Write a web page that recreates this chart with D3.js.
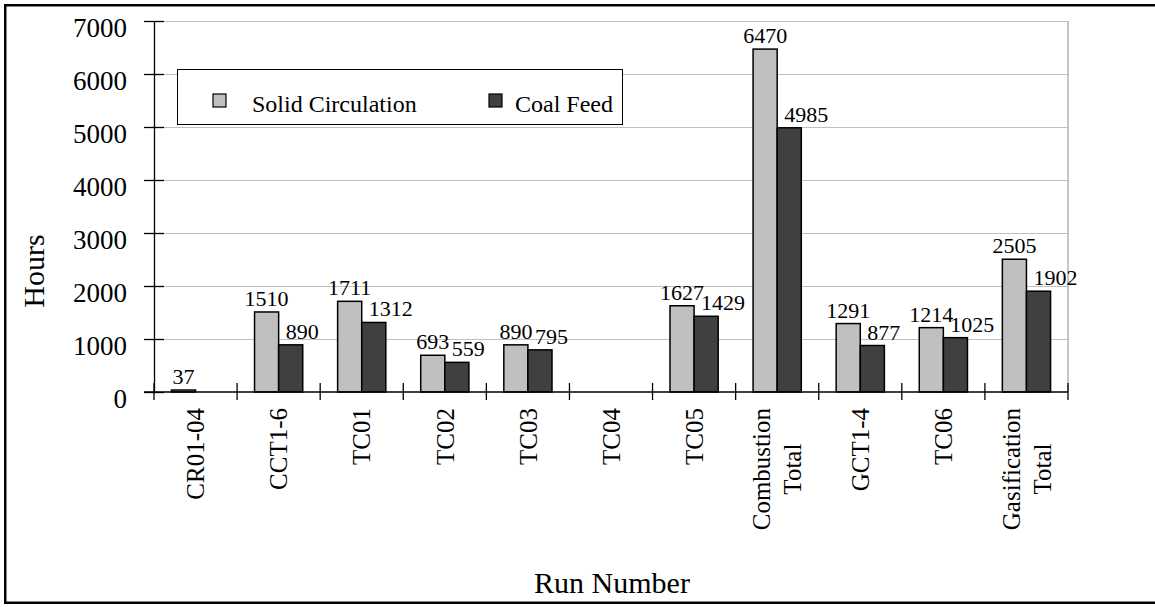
<!DOCTYPE html>
<html>
<head>
<meta charset="utf-8">
<script src="https://d3js.org/d3.v7.min.js"></script>
<style>
  html, body { margin: 0; padding: 0; background: #fff; }
  svg text { font-family: "Liberation Serif", "Times New Roman", serif; fill: #000; }
</style>
</head>
<body>
<div id="chart"></div>
<script>
// chart data
const categories = ['CR01-04', 'CCT1-6', 'TC01', 'TC02', 'TC03', 'TC04', 'TC05',
    'Combustion\nTotal', 'GCT1-4', 'TC06', 'Gasification\nTotal'];
const solidCirculation = [37, 1510, 1711, 693, 890, null, 1627, 6470, 1291, 1214, 2505];
const coalFeed = [null, 890, 1312, 559, 795, null, 1429, 4985, 877, 1025, 1902];
const seriesNames = ['Solid Circulation', 'Coal Feed'];
const yTicks = [0, 1000, 2000, 3000, 4000, 5000, 6000, 7000];

const FONT = '"Liberation Serif", "Times New Roman", serif';
const width = 1155, height = 607;
const margin = { top: 21, left: 154, right: 87, bottom: 215 };
const innerWidth = width - margin.left - margin.right;
const innerHeight = height - margin.top - margin.bottom;
const colors = { 'Solid Circulation': '#c0c0c0', 'Coal Feed': '#404040' };

const svg = d3.select('#chart').append('svg')
    .attr('width', width)
    .attr('height', height)
    .attr('font-family', FONT)
    .attr('xmlns', 'http://www.w3.org/2000/svg');

// outer frame
svg.append('rect')
    .attr('x', 5.25).attr('y', 5.25)
    .attr('width', 1160).attr('height', 597.5)
    .attr('fill', 'none').attr('stroke', '#000').attr('stroke-width', 2.5);

const g = svg.append('g').attr('transform', `translate(${margin.left},${margin.top})`);

const x0 = d3.scaleBand().domain(categories).range([0, innerWidth])
    .paddingInner(0.42).paddingOuter(0.21);
const x1 = d3.scaleBand().domain(seriesNames).range([0, x0.bandwidth()]);
const y = d3.scaleLinear().domain([0, 7000]).range([innerHeight, 0]);

// gridlines + plot border (gray)
g.append('g')
    .call(d3.axisLeft(y).tickValues(yTicks.slice(1)).tickSize(-innerWidth).tickFormat(''))
    .call(s => s.select('.domain').remove())
    .selectAll('line').attr('stroke', '#c0c0c0').attr('stroke-width', 1.2);
g.append('line')
    .attr('x1', innerWidth).attr('x2', innerWidth)
    .attr('y1', 0).attr('y2', innerHeight)
    .attr('stroke', '#a0a0a0').attr('stroke-width', 1.2);

// y axis
const yAxis = g.append('g')
    .call(d3.axisLeft(y).tickValues(yTicks).tickSize(0).tickPadding(27).tickFormat(d3.format('d')))
    .attr('font-family', FONT);
yAxis.select('.domain').attr('stroke', '#000').attr('stroke-width', 1.3);
yAxis.selectAll('.tick text')
    .attr('font-size', '27px')
    .attr('font-family', FONT)
    .attr('dy', '0.58em');
yAxis.selectAll('.tick').append('line')
    .attr('x1', -10).attr('x2', 10)
    .attr('stroke', '#000').attr('stroke-width', 1.3);

// bars
const rows = categories.map((c, i) => ({
    cat: c,
    vals: [
        { key: seriesNames[0], v: solidCirculation[i] },
        { key: seriesNames[1], v: coalFeed[i] }
    ]
}));

const groups = g.selectAll('.grp').data(rows).join('g')
    .attr('class', 'grp')
    .attr('transform', d => `translate(${x0(d.cat)},0)`);

groups.selectAll('rect')
    .data(d => d.vals.filter(e => e.v != null))
    .join('rect')
    .attr('x', d => x1(d.key))
    .attr('y', d => y(d.v))
    .attr('width', x1.bandwidth())
    .attr('height', d => innerHeight - y(d.v))
    .attr('fill', d => colors[d.key])
    .attr('stroke', '#000')
    .attr('stroke-width', 1.5);

// value labels
groups.selectAll('text.val')
    .data(d => d.vals.filter(e => e.v != null))
    .join('text')
    .attr('class', 'val')
    .attr('font-size', '22px')
    .attr('x', d => d.key === seriesNames[0] ? x1(d.key) + x1.bandwidth() / 2 : x1(d.key) + 7)
    .attr('y', d => y(d.v) - 6)
    .attr('text-anchor', d => d.key === seriesNames[0] ? 'middle' : 'start')
    .text(d => d.v);

// x axis
g.append('line')
    .attr('x1', -10).attr('x2', innerWidth)
    .attr('y1', innerHeight).attr('y2', innerHeight)
    .attr('stroke', '#000').attr('stroke-width', 1.3);
const step = x0.step();
g.selectAll('.xtick').data(d3.range(categories.length + 1)).join('line')
    .attr('class', 'xtick')
    .attr('x1', i => i * step).attr('x2', i => i * step)
    .attr('y1', innerHeight - 9).attr('y2', innerHeight + 8)
    .attr('stroke', '#000').attr('stroke-width', 1.3);

// category labels (rotated)
const lineH = 31;
categories.forEach(c => {
    const lines = c.split('\n');
    const lg = g.append('g')
        .attr('transform', `translate(${x0(c) + x0.bandwidth() / 2},${innerHeight + 16}) rotate(-90)`);
    const texts = lines.map((ln, i) => lg.append('text')
        .attr('font-size', '25px')
        .attr('text-anchor', 'middle')
        .attr('y', (i - (lines.length - 1) / 2) * lineH)
        .attr('dy', '0.35em')
        .text(ln));
    const maxW = d3.max(texts, t => t.node().getComputedTextLength());
    texts.forEach(t => t.attr('x', -maxW / 2));
});

// axis titles
svg.append('text')
    .attr('transform', 'translate(44,271) rotate(-90)')
    .attr('text-anchor', 'middle')
    .attr('font-size', '30px')
    .text('Hours');
svg.append('text')
    .attr('x', 612).attr('y', 593)
    .attr('text-anchor', 'middle')
    .attr('font-size', '30px')
    .text('Run Number');

// legend
const legend = svg.append('g');
legend.append('rect')
    .attr('x', 177.5).attr('y', 69.5).attr('width', 445).attr('height', 55)
    .attr('fill', '#fff').attr('stroke', '#000').attr('stroke-width', 1);
const legendX = [213, 489];
const legendGap = [39, 26];
seriesNames.forEach((name, i) => {
    legend.append('rect')
        .attr('x', legendX[i]).attr('y', 94)
        .attr('width', 13).attr('height', 13)
        .attr('fill', colors[name]).attr('stroke', '#000').attr('stroke-width', 1.2);
    legend.append('text')
        .attr('x', legendX[i] + legendGap[i]).attr('y', 112)
        .attr('font-size', '24px')
        .text(name);
});
</script>
</body>
</html>
